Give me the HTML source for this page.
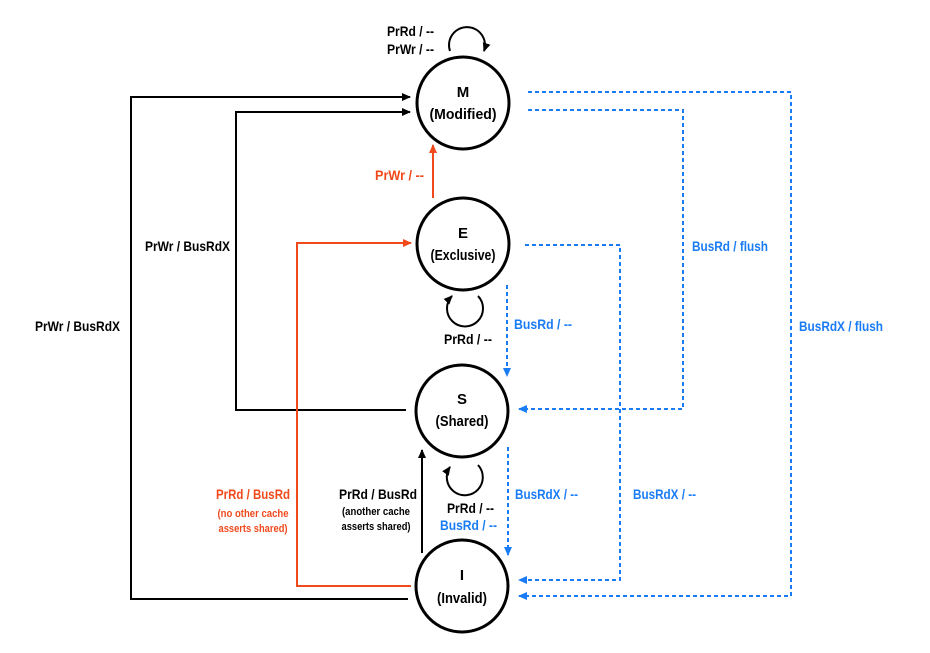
<!DOCTYPE html>
<html><head><meta charset="utf-8"><style>
html,body{margin:0;padding:0;background:#fff;}
svg text{font-family:"Liberation Sans Narrow","Liberation Sans",sans-serif;font-weight:bold;}
</style></head><body>
<svg width="930" height="648" viewBox="0 0 930 648" xmlns="http://www.w3.org/2000/svg">
<defs>
<marker id="ak" markerWidth="10" markerHeight="10" refX="8" refY="5" orient="auto" markerUnits="userSpaceOnUse"><path d="M0,1 L9,5 L0,9 z" fill="#000"/></marker>
<marker id="ao" markerWidth="10" markerHeight="10" refX="8" refY="5" orient="auto" markerUnits="userSpaceOnUse"><path d="M0,1 L9,5 L0,9 z" fill="#f04a1c"/></marker>
<marker id="ab" markerWidth="10" markerHeight="10" refX="8" refY="5" orient="auto" markerUnits="userSpaceOnUse"><path d="M0,1 L9,5 L0,9 z" fill="#1a7cf5"/></marker>
</defs>
<g fill="none" stroke-width="2">
<path d="M408,599 H131 V97 H410" stroke="#000" marker-end="url(#ak)"/>
<path d="M406,410 H236 V112 H410" stroke="#000" marker-end="url(#ak)"/>
<path d="M422,553 V450" stroke="#000" marker-end="url(#ak)"/>
<path d="M411,586 H297 V243 H411" stroke="#f04a1c" marker-end="url(#ao)"/>
<path d="M433,198 V145" stroke="#f04a1c" marker-end="url(#ao)"/>
<g stroke="#1a7cf5" stroke-dasharray="4,3">
<path d="M528,92 H791 V596 H519" marker-end="url(#ab)"/>
<path d="M528,110 H683 V409 H519" marker-end="url(#ab)"/>
<path d="M525,245 H620 V580 H519" marker-end="url(#ab)"/>
<path d="M507,285 V376" marker-end="url(#ab)"/>
<path d="M508,447 V555" marker-end="url(#ab)"/>
</g>
<g stroke="#000" stroke-width="3">
<circle cx="463" cy="103" r="46"/>
<circle cx="463" cy="244" r="46"/>
<circle cx="462" cy="411" r="46"/>
<circle cx="462" cy="586" r="46"/>
</g>
<path d="M450,51 A18,18 0 1 1 484,51" stroke="#000" marker-end="url(#ak)"/>
<path d="M478,296 A18,18 0 1 1 452,296" stroke="#000" marker-end="url(#ak)"/>
<path d="M478,465 A18,18 0 1 1 450,467" stroke="#000" marker-end="url(#ak)"/>
</g>
<g font-size="15" text-anchor="middle" lengthAdjust="spacingAndGlyphs">
<text x="463" y="97">M</text><text x="463" y="119" textLength="67" lengthAdjust="spacingAndGlyphs">(Modified)</text>
<text x="463" y="238">E</text><text x="463" y="260" textLength="65" lengthAdjust="spacingAndGlyphs">(Exclusive)</text>
<text x="462" y="404">S</text><text x="462" y="426" textLength="53" lengthAdjust="spacingAndGlyphs">(Shared)</text>
<text x="462" y="580">I</text><text x="462" y="603" textLength="50" lengthAdjust="spacingAndGlyphs">(Invalid)</text>
</g>
<g font-size="14">
<text x="387" y="36" textLength="47" lengthAdjust="spacingAndGlyphs">PrRd / --</text>
<text x="387" y="54" textLength="47" lengthAdjust="spacingAndGlyphs">PrWr / --</text>
<text x="444" y="344" textLength="48" lengthAdjust="spacingAndGlyphs">PrRd / --</text>
<text x="447" y="513" textLength="47" lengthAdjust="spacingAndGlyphs">PrRd / --</text>
<text x="440" y="530" fill="#1a7cf5" textLength="57" lengthAdjust="spacingAndGlyphs">BusRd / --</text>
<text x="375" y="180" fill="#f04a1c" textLength="49" lengthAdjust="spacingAndGlyphs">PrWr / --</text>
<text x="145" y="251" textLength="85" lengthAdjust="spacingAndGlyphs">PrWr / BusRdX</text>
<text x="35" y="331" textLength="85" lengthAdjust="spacingAndGlyphs">PrWr / BusRdX</text>
<text x="692" y="251" fill="#1a7cf5" textLength="76" lengthAdjust="spacingAndGlyphs">BusRd / flush</text>
<text x="799" y="331" fill="#1a7cf5" textLength="84" lengthAdjust="spacingAndGlyphs">BusRdX / flush</text>
<text x="514" y="329" fill="#1a7cf5" textLength="58" lengthAdjust="spacingAndGlyphs">BusRd / --</text>
<text x="515" y="499" fill="#1a7cf5" textLength="63" lengthAdjust="spacingAndGlyphs">BusRdX / --</text>
<text x="633" y="499" fill="#1a7cf5" textLength="63" lengthAdjust="spacingAndGlyphs">BusRdX / --</text>
<text x="216" y="499" fill="#f04a1c" textLength="74" lengthAdjust="spacingAndGlyphs">PrRd / BusRd</text>
<text x="339" y="499" textLength="78" lengthAdjust="spacingAndGlyphs">PrRd / BusRd</text>
</g>
<g font-size="11" text-anchor="middle">
<text x="253" y="517" fill="#f04a1c" textLength="71" lengthAdjust="spacingAndGlyphs">(no other cache</text>
<text x="253" y="532" fill="#f04a1c" textLength="69" lengthAdjust="spacingAndGlyphs">asserts shared)</text>
<text x="376" y="515" textLength="68" lengthAdjust="spacingAndGlyphs">(another cache</text>
<text x="376" y="530" textLength="69" lengthAdjust="spacingAndGlyphs">asserts shared)</text>
</g>
</svg>
</body></html>
